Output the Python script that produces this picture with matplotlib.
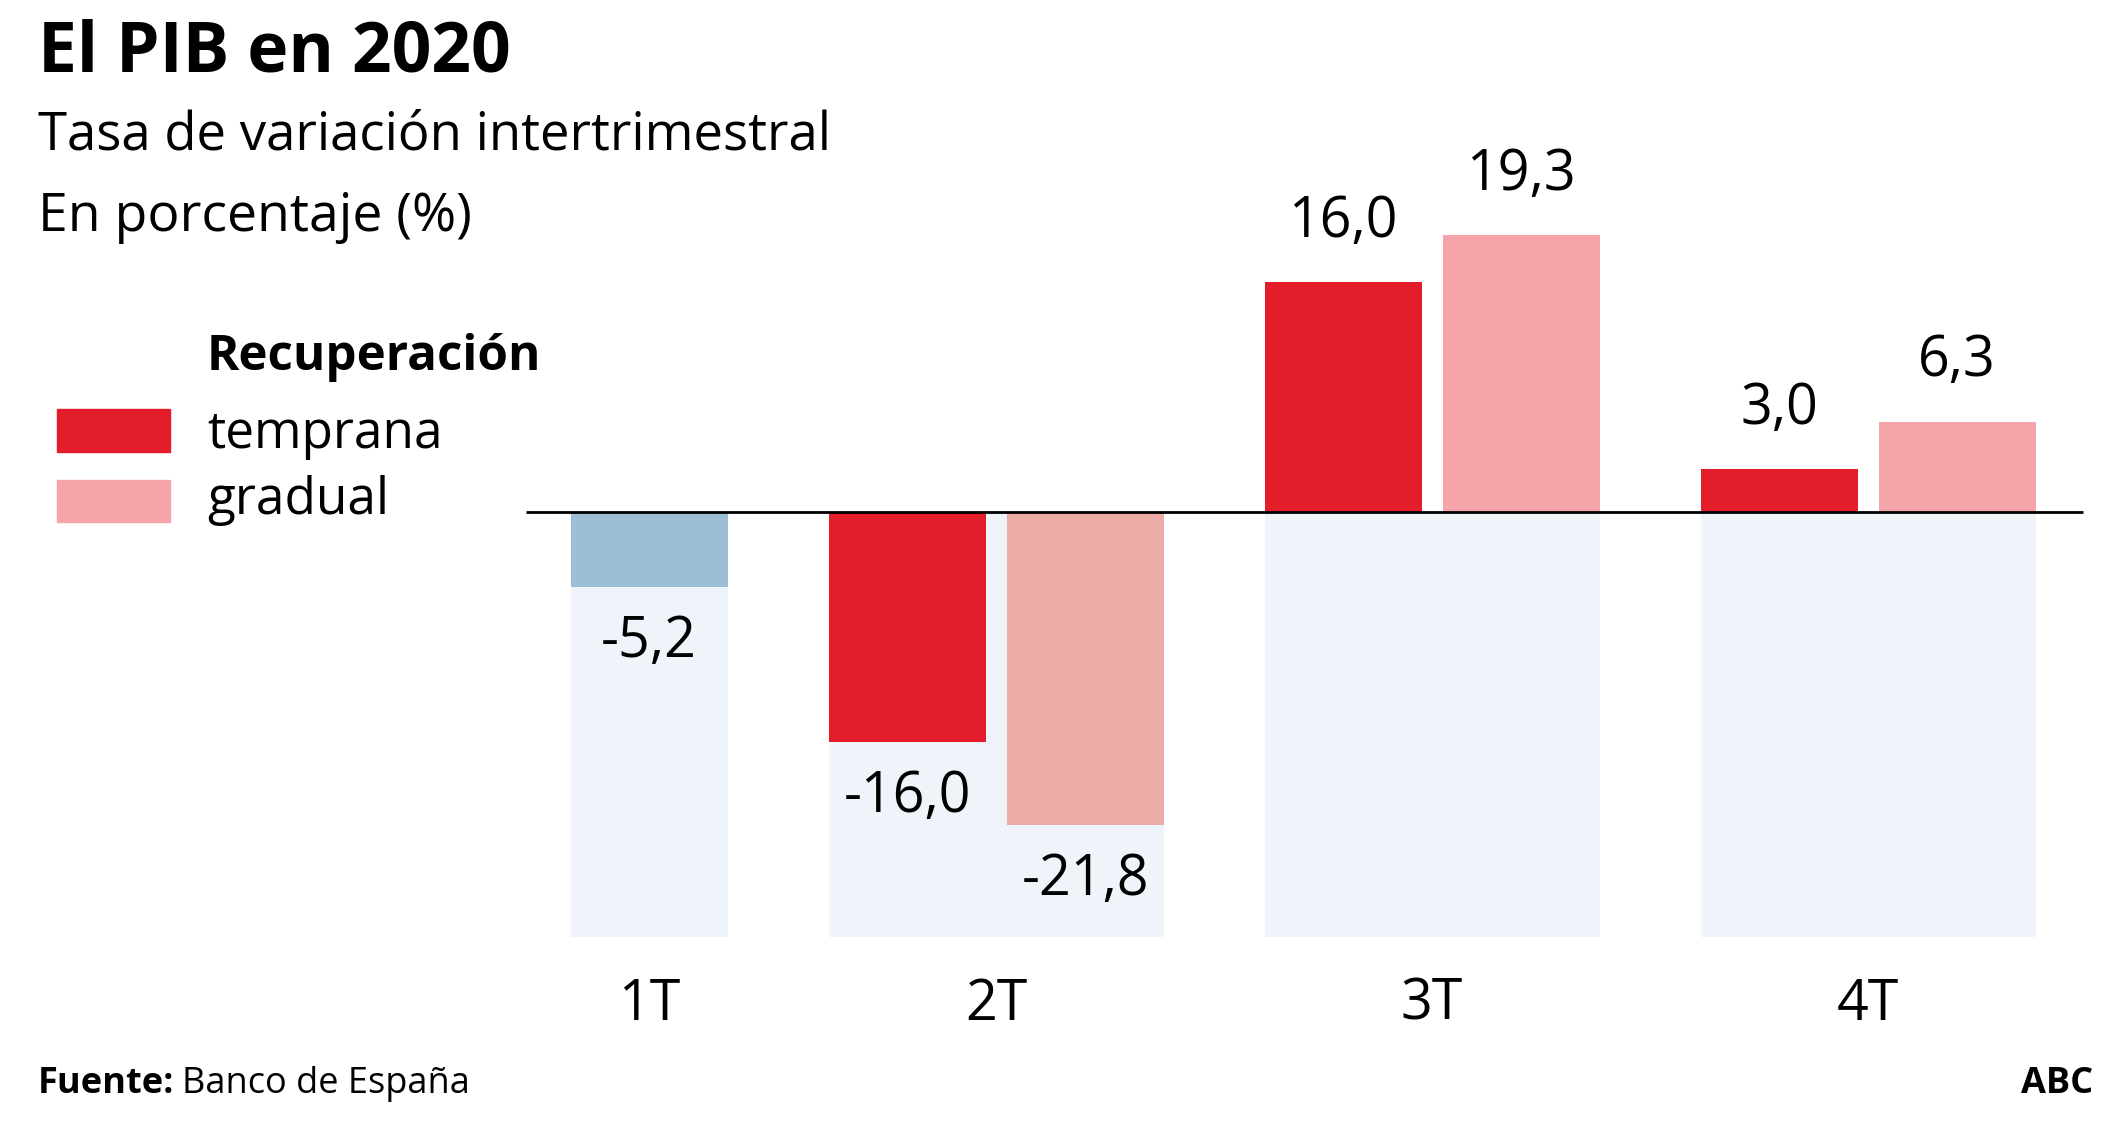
import numpy as np
import matplotlib
matplotlib.use('Agg')
from matplotlib import pyplot as plt
from matplotlib.patches import Rectangle

plt.rcParams['font.family'] = ['Open Sans', 'DejaVu Sans']

# Data
quarters = ['1T', '2T', '3T', '4T']
q1_value = -5.2
temprana = [np.nan, -16.0, 16.0, 3.0]
gradual = [np.nan, -21.8, 19.3, 6.3]

# Colours
RED = '#E31D2A'
PINK = '#F5A4AA'
SALMON = '#EDACA5'
BLUE = '#9CBFD5'
BG = '#EEF4F9'

# Layout (canvas in pixels horizontally, data units vertically)
W, H = 2125, 1126
y0_px = 512          # pixel row of the zero line
px_per_unit = 14.35
centers = [649, 996, 1432, 1868]
bar_w = 157
gap = 21
bg_depth = -29.6

fig = plt.figure(figsize=(W / 100, H / 100), dpi=100)
ax = fig.add_axes([0, 0, 1, 1])
ax.set_xlim(0, W)
ax.set_ylim(-(H - y0_px) / px_per_unit, y0_px / px_per_unit)
ax.axis('off')


def fmt(v):
    return f'{v:.1f}'.replace('.', ',')


def label(x, v):
    off = 43 if v > 0 else -40
    ax.annotate(fmt(v), (x, v), xytext=(0, off), textcoords='offset points',
                ha='center', va='center', fontsize=40)


def ftext(x, y, s, **kw):
    # figure text placed with pixel coordinates from the top-left corner
    return fig.text(x / W, 1 - y / H, s, va='center', **kw)


# First quarter: single observed bar
c = centers[0]
ax.bar(c, bg_depth, width=bar_w, color=BG, zorder=1)
ax.bar(c, q1_value, width=bar_w, color=BLUE, zorder=2)
label(c, q1_value)

# Forecast quarters: pairs of scenarios
for i in range(1, 4):
    c = centers[i]
    xl = c - gap / 2 - bar_w / 2
    xr = c + gap / 2 + bar_w / 2
    ax.bar(c, bg_depth, width=2 * bar_w + gap, color=BG, zorder=1)
    ax.bar(xl, temprana[i], width=bar_w, color=RED, zorder=2)
    ax.bar(xr, gradual[i], width=bar_w, color=SALMON if gradual[i] < 0 else PINK,
           zorder=2)
    label(xl, temprana[i])
    label(xr, gradual[i])

ax.hlines(0, 526, 2083, color='black', lw=2, zorder=3)

# Category labels
for c, q in zip(centers, quarters):
    ax.text(c, -(1005 - y0_px) / px_per_unit, q, ha='center', va='center',
            fontsize=40)

# Titles
ftext(38, 54, 'El PIB en 2020', fontsize=50, fontweight='bold')
ftext(38, 136, 'Tasa de variación intertrimestral', fontsize=38)
ftext(38, 217, 'En porcentaje (%)', fontsize=38.5)

# Legend
ftext(207, 358, 'Recuperación', fontsize=35.5, fontweight='bold')
fig.patches.append(Rectangle((57 / W, 1 - 452 / H), 113 / W, 43 / H,
                             transform=fig.transFigure, color=RED))
fig.patches.append(Rectangle((57 / W, 1 - 522 / H), 113 / W, 42 / H,
                             transform=fig.transFigure, color=PINK))
ftext(207, 434, 'temprana', fontsize=37)
ftext(207, 501, 'gradual', fontsize=37)

# Footer
src = ftext(38, 1084, 'Fuente:', fontsize=26, fontweight='bold')
fig.canvas.draw()
bb = src.get_window_extent()
ftext(bb.x1 + 7, 1084, 'Banco de España', fontsize=26)
ftext(2093, 1084, 'ABC', fontsize=26, fontweight='bold', ha='right')

fig.savefig('out.png', dpi=100)
